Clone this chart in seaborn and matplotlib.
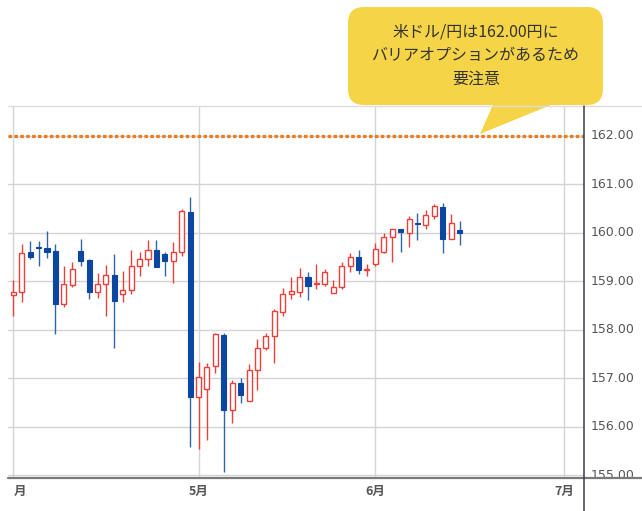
import matplotlib
matplotlib.use("Agg")
import matplotlib.pyplot as plt
import seaborn as sns
from matplotlib.patches import FancyBboxPatch, Polygon

# daily USD/JPY candles, Apr - Jun
opens = [158.71, 158.78, 159.59, 159.70, 159.69, 159.61, 158.53, 158.92, 159.62, 159.43,
         158.77, 158.93, 159.12, 158.73, 158.81, 159.32, 159.45, 159.64, 159.56, 159.42,
         159.60, 160.43, 156.61, 156.77, 157.25, 157.89, 156.35, 156.90, 156.53, 157.16,
         157.61, 157.87, 158.37, 158.73, 158.78, 159.08, 158.93, 158.93, 158.75, 158.87,
         159.31, 159.50, 159.23, 159.36, 159.60, 159.90, 160.07, 160.00, 160.20, 160.15,
         160.35, 160.53, 159.86, 160.05]
highs = [159.02, 159.76, 159.82, 159.82, 160.03, 159.76, 159.31, 159.40, 159.87, 159.45,
         159.16, 159.33, 159.56, 159.21, 159.65, 159.60, 159.85, 159.85, 159.59, 159.80,
         160.48, 160.73, 157.34, 157.32, 157.93, 157.93, 156.97, 157.01, 157.28, 157.80,
         157.92, 158.43, 158.85, 159.09, 159.26, 159.18, 159.35, 159.24, 159.03, 159.39,
         159.58, 159.65, 159.36, 159.78, 160.00, 160.07, 160.07, 160.35, 160.40, 160.46,
         160.58, 160.60, 160.38, 160.24]
lows = [158.28, 158.56, 159.45, 159.32, 159.47, 157.90, 158.46, 158.87, 159.31, 158.63,
        158.66, 158.28, 157.62, 158.56, 158.73, 159.11, 159.32, 159.29, 159.11, 158.97,
        159.52, 155.58, 155.53, 155.72, 157.11, 155.07, 156.07, 156.48, 156.53, 156.75,
        157.58, 157.32, 158.28, 158.63, 158.68, 158.61, 158.83, 158.90, 158.75, 158.84,
        159.19, 159.14, 159.10, 159.31, 159.58, 159.39, 159.60, 159.71, 159.85, 160.07,
        160.28, 159.57, 159.86, 159.74]
closes = [158.78, 159.58, 159.50, 159.68, 159.59, 158.53, 158.93, 159.24, 159.42, 158.77,
          158.94, 159.12, 158.59, 158.82, 159.32, 159.45, 159.64, 159.29, 159.42, 159.60,
          160.44, 156.61, 157.03, 157.23, 157.90, 156.35, 156.90, 156.66, 157.16, 157.63,
          157.87, 158.38, 158.73, 158.79, 159.08, 158.90, 158.95, 159.18, 158.87, 159.31,
          159.50, 159.23, 159.24, 159.66, 159.90, 160.07, 160.01, 160.27, 160.18, 160.36,
          160.55, 159.86, 160.19, 160.00]

month_pos = [0, 22, 43, 65.4]
month_labels = ["月", "5月", "6月", "7月"]
price_ticks = [155, 156, 157, 158, 159, 160, 161, 162]
barrier = 162.00
note_lines = ["米ドル/円は162.00円に", "バリアオプションがあるため", "要注意"]

sns.set_style("white")
plt.rcParams['font.family'] = ['Noto Sans CJK JP', 'DejaVu Sans']

RED = '#E8413C'
BLUE = '#0B47A1'
BLUE_WICK = '#2E66A8'

W, H = 642, 511
fig = plt.figure(figsize=(6.42, 5.11), dpi=100)
L, R, T, B = 8, 584, 106, 477
ax = fig.add_axes([L / W, 1 - B / H, (R - L) / W, (B - T) / H])

ax.set_xlim(-0.63, 67.78)
ax.set_ylim(154.96, 162.61)

# grid
for p in price_ticks:
    ax.axhline(p, color='#d4d4d4', lw=1, zorder=0)
for m in month_pos:
    ax.axvline(m, color='#d4d4d4', lw=1, zorder=0)

# candles
for i in range(len(opens)):
    o, h, l, c = opens[i], highs[i], lows[i], closes[i]
    up = c >= o
    ax.vlines(i, l, h, color=RED if up else BLUE_WICK, lw=1, zorder=2)
    bot = min(o, c)
    ht = max(abs(c - o), 0.025)
    if up:
        ax.bar(i, ht, bottom=bot, width=0.6, facecolor='white', edgecolor=RED, lw=1, zorder=3)
    else:
        ax.bar(i, ht, bottom=bot, width=0.6, facecolor=BLUE, edgecolor=BLUE, lw=0.8, zorder=3)

# barrier line
ax.axhline(barrier, color='#E97B22', lw=2.3, linestyle=(0, (1.1, 0.75)),
           dash_capstyle='butt', zorder=4)

for s in ax.spines.values():
    s.set_visible(False)
ax.set_xticks([])
ax.set_yticks([])

# axis labels
for p in price_ticks:
    ax.text(1.011, p, f"{p:.2f}", transform=ax.get_yaxis_transform(), ha='left', va='center',
            fontsize=9, color='#555555', family=['DejaVu Sans'])
for m, lab in zip(month_pos, month_labels):
    ha = 'left' if m == 0 else 'center'
    xx = m + 0.05 if m == 0 else m
    ax.text(xx, -0.04, lab, transform=ax.get_xaxis_transform(), ha=ha, va='center',
            fontsize=9, color='#555555', fontweight='bold')

# overlay in pixel coordinates for frame lines and callout
ov = fig.add_axes([0, 0, 1, 1], zorder=5)
ov.set_xlim(0, W)
ov.set_ylim(H, 0)
ov.axis('off')
ov.plot([L, W], [T, T], color='#dcdcdc', lw=1)
ov.plot([L, W], [B + 1, B + 1], color='#7a7a7a', lw=1.6)
ov.plot([R, R], [T, H], color='#3a3a48', lw=1.1)

ov.add_patch(Polygon([(495, 100), (480, 134), (563, 100)], closed=True,
                     facecolor='#F5D547', edgecolor='none'))
ov.add_patch(FancyBboxPatch((348, 7), 255, 98, boxstyle="round,pad=0,rounding_size=16",
                            facecolor='#F5D547', edgecolor='none'))
for k, line in enumerate(note_lines):
    ov.text(476, 32 + k * 23.5, line, ha='center', va='center', fontsize=11.5, color='#333333')

plt.savefig('out.png', dpi=100)
